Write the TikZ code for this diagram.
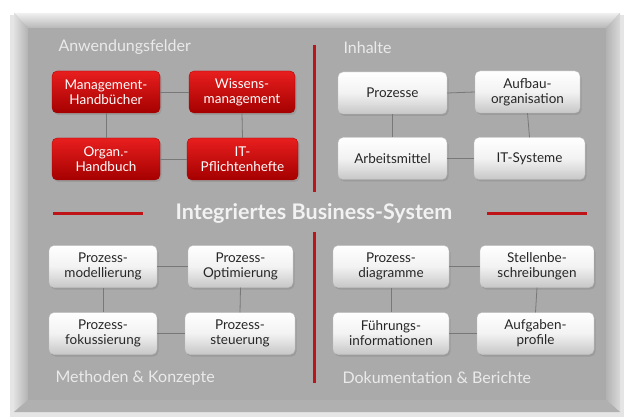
\documentclass[tikz,border=0pt]{standalone}
\usepackage{fontspec}
\setmainfont{Lato}
\usetikzlibrary{shadows}
\definecolor{panel}{RGB}{170,170,170}
\definecolor{redline}{RGB}{190,20,24}
\definecolor{redtop}{RGB}{232,30,30}
\definecolor{redbot}{RGB}{165,0,0}
\definecolor{titlegray}{RGB}{234,234,234}
\definecolor{conn}{RGB}{120,120,120}
\tikzset{
  gbox/.style={rounded corners=5pt, top color=white, bottom color=black!22, middle color=black!5,
    draw=black!25, line width=0.3pt,
    drop shadow={shadow xshift=1.5pt, shadow yshift=-2pt, opacity=0.35},
    align=center, font=\fontsize{13.5}{15}\selectfont, text=black!85,
    minimum height=42pt, inner sep=0pt},
  rbox/.style={gbox, top color=redtop, middle color=red!80!black, bottom color=redbot, draw=redbot, text=white},
  grouptitle/.style={anchor=west, text=titlegray, font=\fontsize{16}{18}\selectfont},
  redbar/.style={draw=redline, line width=3pt},
  link/.style={draw=conn, line width=0.8pt}
}
\begin{document}
\begin{tikzpicture}[x=1pt,y=-1pt]
\useasboundingbox (0,0) rectangle (624,417);
\fill[white] (0,0) rectangle (624,417);
% panel shadow
\fill[black!10] (10,15) rectangle (624,417);
% panel bevel
\fill[black!30] (14,13) rectangle (620,412);
\shade[top color=black!6, bottom color=black!28] (14,13) -- (620,13) -- (606,28) -- (28,28) -- cycle;
\shade[left color=black!12, right color=black!30] (14,13) -- (28,28) -- (28,400) -- (14,412) -- cycle;
\shade[left color=black!30, right color=black!15] (620,13) -- (620,412) -- (606,400) -- (606,28) -- cycle;
\fill[black!31] (14,412) -- (620,412) -- (606,400) -- (28,400) -- cycle;
\fill[panel] (28,28) rectangle (606,400);

% titles
\node[grouptitle] (t1) at (55,47) {Anwendungsfelder};
\node[grouptitle] (t2) at (340,48) {Inhalte};
\node[grouptitle] (t3) at (52,378) {Methoden \& Konzepte};
\node[grouptitle] (t4) at (339,378) {Dokumentation \& Berichte};
\node[text=white!95!black, font=\fontsize{21.5}{24}\selectfont\bfseries] (main) at (314,213) {Integriertes Business-System};

% red bars
\coordinate (v1a) at (314,45); \coordinate (v1b) at (314,192);
\coordinate (v2a) at (314,232); \coordinate (v2b) at (314,383);
\coordinate (h1a) at (53,213); \coordinate (h1b) at (143,213);
\coordinate (h2a) at (487,213); \coordinate (h2b) at (587,213);
\draw[redbar] (v1a) -- (v1b);
\draw[redbar] (v2a) -- (v2b);
\draw[redbar] (h1a) -- (h1b);
\draw[redbar] (h2a) -- (h2b);

% Anwendungsfelder
\node[rbox, minimum width=108pt] (a1) at (106,92) {Management-\\Handbücher};
\node[rbox, minimum width=106pt] (a2) at (242,92) {Wissens-\\management};
\node[rbox, minimum width=108pt] (a3) at (106,159) {Organ.-\\Handbuch};
\node[rbox, minimum width=111pt] (a4) at (242.5,159) {IT-\\Pflichtenhefte};

% Inhalte
\node[gbox, minimum width=109pt] (b1) at (392.5,93) {Prozesse};
\node[gbox, minimum width=105pt] (b2) at (527.5,92) {Aufbau-\\organisation};
\node[gbox, minimum width=109pt] (b3) at (392.5,158.5) {Arbeitsmittel};
\node[gbox, minimum width=111pt] (b4) at (529.5,158.5) {IT-Systeme};

% Methoden
\node[gbox, minimum width=108pt] (c1) at (103,266.5) {Prozess-\\modellierung};
\node[gbox, minimum width=105pt] (c2) at (240.5,266.5) {Prozess-\\Optimierung};
\node[gbox, minimum width=108pt] (c3) at (103,333.5) {Prozess-\\fokussierung};
\node[gbox, minimum width=110pt] (c4) at (240,333.5) {Prozess-\\steuerung};

% Dokumentation
\node[gbox, minimum width=116pt] (d1) at (391,266.5) {Prozess-\\diagramme};
\node[gbox, minimum width=114pt] (d2) at (537,266.5) {Stellenbe-\\schreibungen};
\node[gbox, minimum width=116pt] (d3) at (391,333.5) {Führungs-\\informationen};
\node[gbox, minimum width=117pt] (d4) at (535.5,333.5) {Aufgaben-\\profile};

% connectors
\foreach \p/\q in {a1/a2,a3/a4,b1/b2,b3/b4,c1/c2,c3/c4,d1/d2,d3/d4}{
  \draw[link] (\p.east) -- (\q.west);
}
\foreach \p/\q in {a1/a3,a2/a4,b1/b3,b2/b4,c1/c3,c2/c4,d1/d3,d2/d4}{
  \draw[link] (\p.south) -- (\q.north);
}
\end{tikzpicture}
\end{document}
